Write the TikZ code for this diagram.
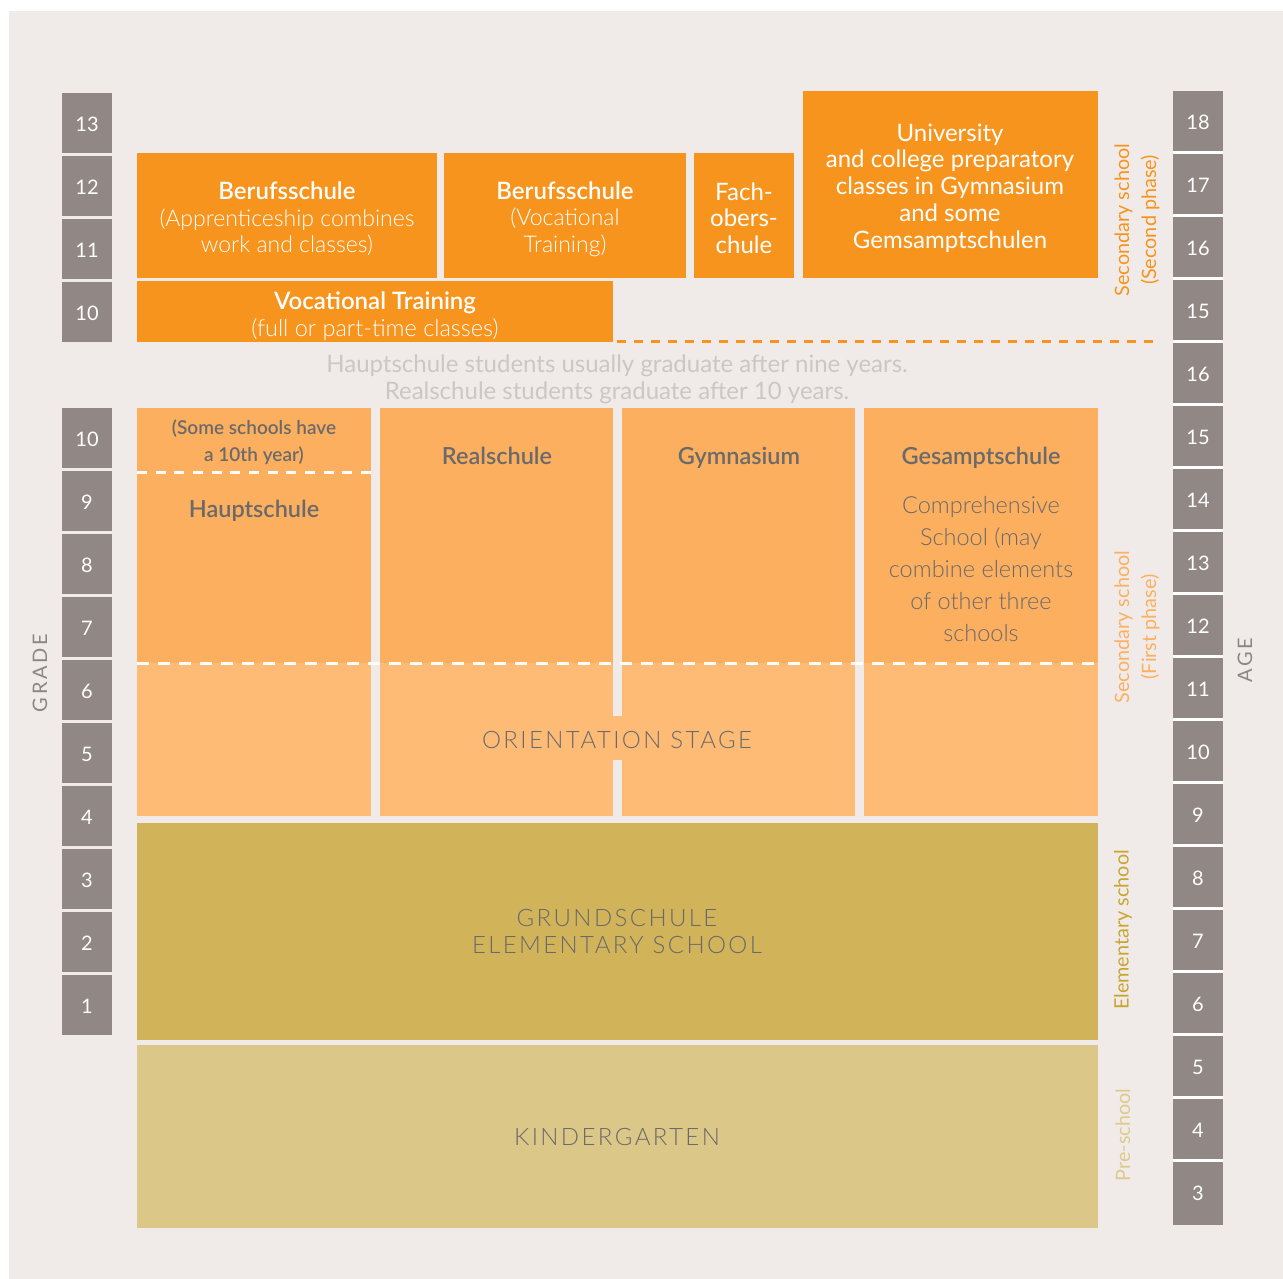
\documentclass[tikz,border=0pt]{standalone}
\usepackage{fontspec}
\setmainfont{Lato}
\newfontfamily\lightf{Lato Light}
\newfontfamily\semif{Lato Semibold}
\newfontfamily\spacedf[LetterSpace=14]{Lato}
\newfontfamily\lightsp[LetterSpace=10]{Lato Light}
\definecolor{bg}{HTML}{F0EBE8}
\definecolor{gbox}{HTML}{918785}
\definecolor{orng}{HTML}{F7941D}
\definecolor{lorA}{HTML}{FBAF5F}
\definecolor{lorB}{HTML}{FDBB76}
\definecolor{gold}{HTML}{D1B35A}
\definecolor{lgold}{HTML}{DBC787}
\definecolor{dtext}{HTML}{6B6A6A}
\definecolor{notec}{HTML}{CDC7C4}
\definecolor{secA}{HTML}{FBB062}
\definecolor{elemc}{HTML}{C9A530}
\definecolor{presc}{HTML}{DDCA8C}
\definecolor{axisc}{HTML}{8C8685}
\tikzset{
  num/.style={text=white, inner sep=0pt, font=\fontsize{20}{24}\selectfont},
  wt/.style={text=white, align=center, inner sep=0pt},
  gt/.style={text=dtext, align=center, inner sep=0pt},
  side/.style={rotate=90, align=center, inner sep=0pt, font=\fontsize{19.8}{27}\selectfont},
}
\begin{document}
\begin{tikzpicture}[x=1pt,y=-1pt]
\useasboundingbox (0,0) rectangle (1283,1279);
\fill[white] (0,0) rectangle (1283,1279);
\fill[bg] (9,11) rectangle (1283,1279);

% left grade column
\foreach \a [count=\i from 0] in {13,12,11,10} {
  \fill[gbox] (62,{93+63*\i}) rectangle (112,{153+63*\i});
  \node[num] (gt\i) at (87,{124+63*\i}) {\a};
}
\foreach \a [count=\i from 0] in {10,9,8,7,6,5,4,3,2,1} {
  \fill[gbox] (62,{408+63*\i}) rectangle (112,{468+63*\i});
  \node[num] (gb\i) at (87,{439+63*\i}) {\a};
}
% right age column
\fill[gbox] (1173,91) rectangle (1223,1225);
\foreach \i in {0,...,16} {
  \fill[white] (1173,{151+63*\i}) rectangle (1223,{154+63*\i});
}
\foreach \a [count=\i from 0] in {18,17,16,15,16,15,14,13,12,11,10,9,8,7,6,5,4,3} {
  \node[num] (ag\i) at (1198,{122+63*\i}) {\a};
}

% top orange boxes
\fill[orng] (137,153) rectangle (437,278);
\fill[orng] (444,153) rectangle (686,278);
\fill[orng] (694,153) rectangle (794,278);
\fill[orng] (803,91) rectangle (1098,278);
\fill[orng] (137,281) rectangle (613,342);

\node[wt, font=\lightf\fontsize{23}{26.5}\selectfont] (bs1) at (287,219)
  {{\semif\fontsize{24}{26.5}\selectfont Berufsschule}\\(Apprenticeship combines\\work and classes)};
\node[wt, font=\lightf\fontsize{23}{26.5}\selectfont] (bs2) at (565,219)
  {{\semif\fontsize{24}{26.5}\selectfont Berufsschule}\\(Vocational\\Training)};
\node[wt, font=\fontsize{24}{26.5}\selectfont] (fos) at (744,218)
  {Fach-\\obers-\\chule};
\node[wt, font=\fontsize{24}{26.75}\selectfont] (uni) at (950,188)
  {University\\and college preparatory\\classes in Gymnasium\\and some\\Gemsamptschulen};
\node[wt, font=\lightf\fontsize{23.5}{26.5}\selectfont] (vt) at (375,316)
  {{\semif\fontsize{24}{26.5}\selectfont Vocational Training}\\(full or part-time classes)};

\draw[orng, line width=3pt, dash pattern=on 9pt off 8pt] (617,341) -- (1160,341);

\node[align=center, inner sep=0pt, text=notec, font=\fontsize{24}{27}\selectfont] (note) at (617,379)
  {Hauptschule students usually graduate after nine years.\\Realschule students graduate after 10 years.};

% secondary first phase
\foreach \xa/\xb in {137/371,380/613,622/855,864/1098} {
  \fill[lorA] (\xa,408) rectangle (\xb,663);
  \fill[lorB] (\xa,663) rectangle (\xb,816);
}
\fill[lorB] (612,716) rectangle (623,760);
\draw[white!92!bg, line width=3pt, dash pattern=on 12pt off 9pt] (137,663) -- (1098,663);
\draw[white!92!bg, line width=3pt, dash pattern=on 10pt off 8.67pt] (137,472) -- (371,472);

\node[gt, font=\semif\fontsize{19}{27}\selectfont] (some) at (254,442) {(Some schools have\\a 10th year)};
\node[gt, font=\semif\fontsize{23.5}{27}\selectfont] (haupt) at (254,511) {Hauptschule};
\node[gt, font=\semif\fontsize{23.5}{27}\selectfont] (real) at (497,456) {Realschule};
\node[gt, font=\semif\fontsize{23.5}{27}\selectfont] (gym) at (739,458) {Gymnasium};
\node[gt, font=\semif\fontsize{23.5}{27}\selectfont] (ges) at (981,458) {Gesamptschule};
\node[gt, font=\lightf\fontsize{23.5}{32}\selectfont] (comp) at (981,569)
  {Comprehensive\\School (may\\combine elements\\of other three\\schools};
\node[gt, font=\lightsp\fontsize{24}{27}\selectfont] (orient) at (617,740) {ORIENTATION STAGE};

% elementary and kindergarten
\fill[gold] (137,823) rectangle (1098,1040);
\fill[lgold] (137,1045) rectangle (1098,1228);
\node[gt, font=\lightsp\fontsize{24}{27}\selectfont] (grund) at (617,932) {GRUNDSCHULE\\ELEMENTARY SCHOOL};
\node[gt, font=\lightsp\fontsize{24}{27}\selectfont] (kind) at (617,1137) {KINDERGARTEN};

% side labels
\node[side, text=orng] (s2) at (1137,220) {Secondary school\\(Second phase)};
\node[side, text=secA] (s1) at (1137,627) {Secondary school\\(First phase)};
\node[side, text=elemc] (el) at (1123,930) {Elementary school};
\node[side, text=presc] (pre) at (1123,1135) {Pre-school};
\node[rotate=90, inner sep=0pt, text=axisc, font=\spacedf\fontsize{20}{24}\selectfont] (grade) at (40,673) {GRADE};
\node[rotate=90, inner sep=0pt, text=axisc, font=\spacedf\fontsize{20}{24}\selectfont] (age) at (1245,660) {AGE};
\end{tikzpicture}
\end{document}
